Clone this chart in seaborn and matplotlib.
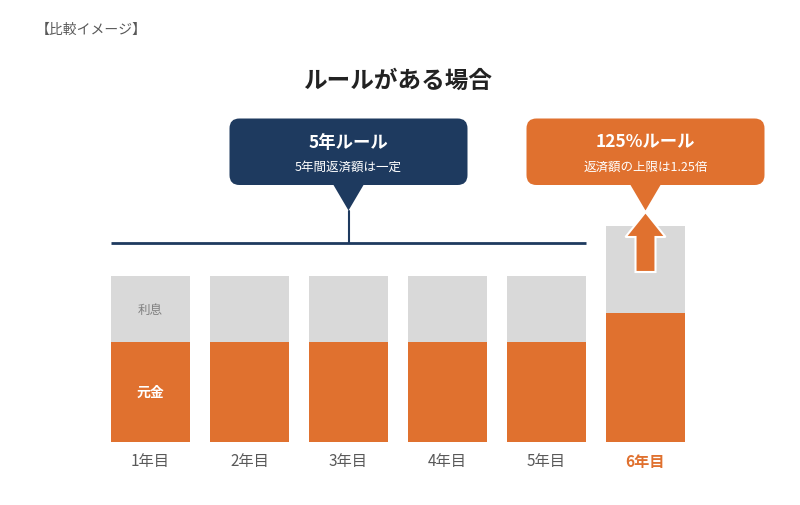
import matplotlib
matplotlib.use("Agg")
import matplotlib.pyplot as plt
from matplotlib.patches import FancyBboxPatch, Polygon
import seaborn as sns
import pandas as pd

# --------------------------------
# DATA
# --------------------------------
years = ["1年目", "2年目", "3年目", "4年目", "5年目", "6年目"]
principal = [60, 60, 60, 60, 60, 78]
interest = [40, 40, 40, 40, 40, 52]

header_text = "【比較イメージ】"
title_text = "ルールがある場合"
rule1_title = "5年ルール"
rule1_sub = "5年間返済額は一定"
rule2_title = "125%ルール"
rule2_sub = "返済額の上限は1.25倍"
interest_label = "利息"
principal_label = "元金"

ORANGE = "#e0712f"
GRAY = "#d9d9d9"
NAVY = "#1e3a5f"
TEXT_GRAY = "#595959"

sns.set_style("white")
plt.rcParams["font.family"] = ["Noto Sans CJK JP", "DejaVu Sans"]

df = pd.DataFrame({
    "year": years,
    "principal": principal,
    "total": [p + i for p, i in zip(principal, interest)],
})

# pixel scale of the layout
PX_PER_BAR = 99.0
PX_PER_UNIT = 1.66
px_x = 1 / PX_PER_BAR
px_y = 1 / PX_PER_UNIT

fig = plt.figure(figsize=(8, 5.06), dpi=100)
ax = fig.add_axes([0, 0, 1, 1])

sns.barplot(data=df, x="year", y="total", color=GRAY, saturation=1,
            width=0.8, edgecolor="none", linewidth=0, ax=ax)
sns.barplot(data=df, x="year", y="principal", color=ORANGE, saturation=1,
            width=0.8, edgecolor="none", linewidth=0, ax=ax)

ax.set_xlim(-150.5 * px_x, (800 - 150.5) * px_x)
ax.set_ylim(-(506 - 443) * px_y, 443 * px_y)
ax.axis("off")

# --------------------------------
# BAR TEXTS
# --------------------------------
ax.text(0, principal[0] + interest[0] / 2, interest_label, ha="center",
        va="center", fontsize=9, color="#7f7f7f")
ax.text(0, principal[0] * 0.5, principal_label, ha="center",
        va="center", fontsize=10, color="white", fontweight="bold")

for i, label in enumerate(years):
    last = i == len(years) - 1
    ax.text(i, -19 * px_y, label, ha="center", va="center", fontsize=11,
            color=ORANGE if last else TEXT_GRAY,
            fontweight="bold" if last else "normal")

# --------------------------------
# 5 YEAR BRACKET
# --------------------------------
line_y = 120
ax.plot([-0.4, 4.4], [line_y, line_y], color=NAVY, lw=2,
        solid_capstyle="butt")

box_bottom = (442 - 185) * px_y
box_top = (442 - 118.5) * px_y
tip_y = (442 - 210.5) * px_y
box_w = 238 * px_x
half_base = 16 * px_x

ax.plot([2, 2], [line_y, tip_y], color=NAVY, lw=1.5)


def callout(xc, color, title, sub):
    box = FancyBboxPatch(
        (xc - box_w / 2, box_bottom), box_w, box_top - box_bottom,
        boxstyle="round,pad=0,rounding_size=0.1",
        mutation_aspect=PX_PER_BAR / PX_PER_UNIT,
        facecolor=color, edgecolor="none", zorder=3
    )
    ax.add_patch(box)
    ax.add_patch(Polygon(
        [(xc - half_base, box_bottom + 1), (xc + half_base, box_bottom + 1),
         (xc, tip_y)],
        closed=True, facecolor=color, edgecolor="none", zorder=3
    ))
    ax.text(xc, (442 - 141.5) * px_y, title, ha="center", va="center",
            fontsize=12.5, color="white", fontweight="bold", zorder=4)
    ax.text(xc, (442 - 166.5) * px_y, sub, ha="center", va="center",
            fontsize=9, color="white", zorder=4)


callout(2, NAVY, rule1_title, rule1_sub)
callout(5, ORANGE, rule2_title, rule2_sub)

# --------------------------------
# UP ARROW ON 6TH BAR
# --------------------------------
xc = 5
a_tip = (442 - 212) * px_y
a_head = (442 - 237) * px_y
a_bottom = (442 - 272) * px_y
hw = 20 * px_x
sw = 10 * px_x
ax.add_patch(Polygon(
    [(xc - sw, a_bottom), (xc + sw, a_bottom), (xc + sw, a_head),
     (xc + hw, a_head), (xc, a_tip), (xc - hw, a_head), (xc - sw, a_head)],
    closed=True, facecolor=ORANGE, edgecolor="white", lw=1.5,
    joinstyle="miter", zorder=3
))

# --------------------------------
# TITLES
# --------------------------------
fig.text(36 / 800, 1 - 30 / 506, header_text, ha="left", va="center",
         fontsize=10, color=TEXT_GRAY)
fig.text(398 / 800, 1 - 81 / 506, title_text, ha="center", va="center",
         fontsize=17, color="#222222", fontweight="bold")

fig.savefig("out.png", dpi=100)
